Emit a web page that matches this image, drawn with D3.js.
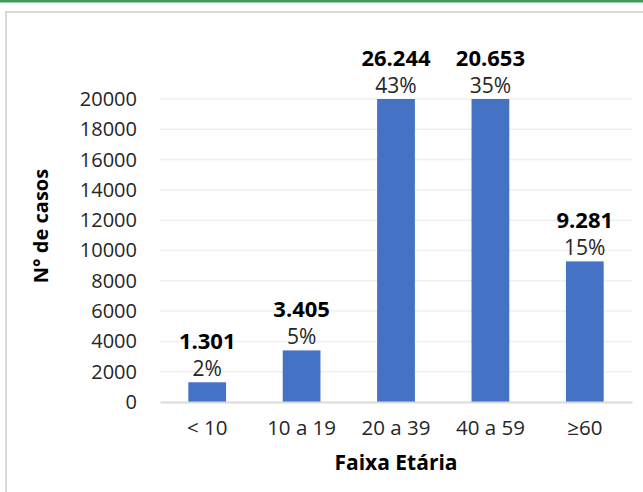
<!DOCTYPE html>
<html>
<head>
<meta charset="utf-8">
<script src="https://cdn.jsdelivr.net/npm/d3@7"></script>
<style>
  html, body { margin: 0; padding: 0; background: #fff; }
  svg { display: block; font-family: "Open Sans", "Noto Sans", sans-serif; }
</style>
</head>
<body>
<svg id="chart" width="643" height="492"></svg>
<script>
const categories = ["< 10", "10 a 19", "20 a 39", "40 a 59", "≥60"];
const cases = [1301, 3405, 26244, 20653, 9281];
const caseLabels = ["1.301", "3.405", "26.244", "20.653", "9.281"];
const shares = ["2%", "5%", "43%", "35%", "15%"];
const yTicks = [0, 2000, 4000, 6000, 8000, 10000, 12000, 14000, 16000, 18000, 20000];

const BAR_COLOR = "#4472c4";
const width = 643, height = 492;
const margin = { top: 99, right: 11, bottom: 90, left: 160 };
const innerW = width - margin.left - margin.right;
const innerH = height - margin.top - margin.bottom;

const svg = d3.select("#chart");

// frame: green rule on top, light grey border left/top
svg.append("rect").attr("x", 0).attr("y", 0).attr("width", width).attr("height", 2.5).attr("fill", "#3d9a58");
svg.append("path")
    .attr("d", `M6,${height} V12 H${width}`)
    .attr("fill", "none").attr("stroke", "#d9d9d9").attr("stroke-width", 2);

const x = d3.scaleBand()
    .domain(categories)
    .range([0, innerW])
    .paddingInner(0.6)
    .paddingOuter(0.3);

// axis tops out at 20000; taller bars are cut at the top
const y = d3.scaleLinear()
    .domain([0, 20000])
    .range([innerH, 0])
    .clamp(true);

const g = svg.append("g").attr("transform", `translate(${margin.left},${margin.top})`);

g.append("g")
    .selectAll("line")
    .data(yTicks.slice(1))
    .join("line")
    .attr("x1", 0).attr("x2", innerW)
    .attr("y1", d => y(d)).attr("y2", d => y(d))
    .attr("stroke", "#efefef").attr("stroke-width", 1.5);

const yAxis = g.append("g")
    .call(d3.axisLeft(y).tickValues(yTicks).tickFormat(d3.format("d")).tickSize(0).tickPadding(23));
yAxis.select(".domain").remove();
yAxis.selectAll("text")
    .attr("font-family", "Open Sans, sans-serif")
    .attr("font-size", 20)
    .attr("fill", "#262626");

g.selectAll("rect.bar")
    .data(categories)
    .join("rect")
    .attr("class", "bar")
    .attr("x", d => x(d))
    .attr("width", x.bandwidth())
    .attr("y", (d, i) => y(cases[i]))
    .attr("height", (d, i) => innerH - y(cases[i]))
    .attr("fill", BAR_COLOR);

const xAxis = g.append("g")
    .attr("transform", `translate(0,${innerH})`)
    .call(d3.axisBottom(x).tickSize(0).tickPadding(18));
xAxis.select(".domain").attr("stroke", "#d9d9d9").attr("stroke-width", 2);
xAxis.selectAll("text")
    .attr("font-family", "Open Sans, sans-serif")
    .attr("font-size", 20.5)
    .attr("fill", "#262626");

// data labels: case count (bold) over share
const labels = g.append("g").attr("text-anchor", "middle").attr("fill", "#000");
categories.forEach((c, i) => {
    const cx = x(c) + x.bandwidth() / 2;
    const top = y(cases[i]);
    labels.append("text")
        .attr("x", cx).attr("y", top - 6)
        .attr("font-size", 21)
        .attr("fill", "#262626")
        .text(shares[i]);
    labels.append("text")
        .attr("x", cx).attr("y", top - 33)
        .attr("font-size", 22)
        .attr("font-weight", 700)
        .text(caseLabels[i]);
});

svg.append("text")
    .attr("x", margin.left + innerW / 2)
    .attr("y", 470)
    .attr("text-anchor", "middle")
    .attr("font-size", 21)
    .attr("font-weight", 700)
    .text("Faixa Etária");

svg.append("text")
    .attr("transform", "translate(48,226) rotate(-90)")
    .attr("text-anchor", "middle")
    .attr("font-size", 20)
    .attr("font-weight", 700)
    .text("N° de casos");
</script>
</body>
</html>
